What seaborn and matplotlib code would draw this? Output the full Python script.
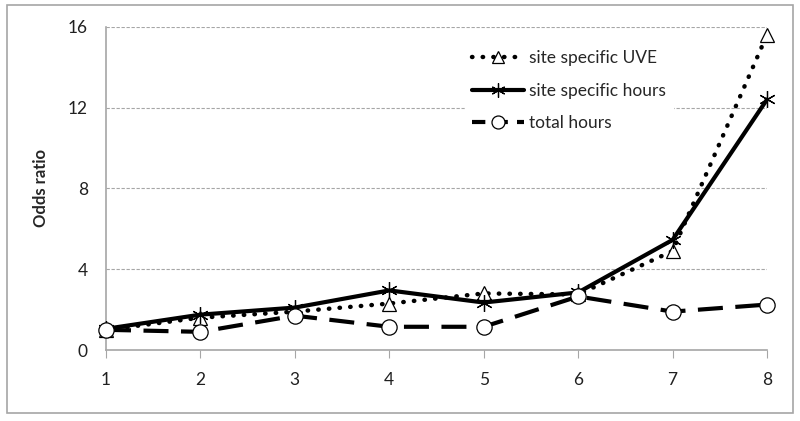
import matplotlib
matplotlib.use("Agg")
import matplotlib.pyplot as plt
import seaborn as sns
import pandas as pd
from matplotlib.patches import Rectangle

x_vals = [1, 2, 3, 4, 5, 6, 7, 8]
uve = [1.0, 1.6, 1.9, 2.3, 2.8, 2.75, 4.9, 15.6]
site_hours = [1.05, 1.75, 2.1, 2.95, 2.35, 2.85, 5.45, 12.4]
total_hours = [1.0, 0.9, 1.7, 1.15, 1.15, 2.65, 1.9, 2.25]
series_names = ["site specific UVE", "site specific hours", "total hours"]
y_ticks = [0, 4, 8, 12, 16]

df = pd.DataFrame({
    "x": x_vals * 3,
    "y": uve + site_hours + total_hours,
    "series": [series_names[0]] * 8 + [series_names[1]] * 8 + [series_names[2]] * 8,
})

sns.set_style("white")
plt.rcParams['font.family'] = ['Lato', 'DejaVu Sans']

fig = plt.figure(figsize=(8, 4.21), dpi=100)
fig.patches.append(Rectangle((0.009, 0.02), 0.982, 0.968, transform=fig.transFigure,
                             fill=False, edgecolor='#a6a6a6', linewidth=1.2))
ax = fig.add_axes([0.1325, 0.1686, 0.8263, 0.768])

styles = {
    series_names[0]: dict(ls=(0, (0.1, 2.3)), marker='^', ms=10, lw=3.2, cap='round'),
    series_names[1]: dict(ls='-', marker=(6, 2, 0), ms=12, lw=3.0, cap='butt'),
    series_names[2]: dict(ls=(0, (6, 3)), marker='o', ms=11, lw=3.0, cap='butt'),
}

for name in series_names:
    st = styles[name]
    sub = df[df["series"] == name]
    sns.lineplot(data=sub, x="x", y="y", ax=ax, color='black', linestyle=st['ls'],
                 linewidth=st['lw'], marker=st['marker'], markersize=st['ms'],
                 markerfacecolor='white', markeredgecolor='black', markeredgewidth=0.9,
                 dash_capstyle=st['cap'], label=name, zorder=3)

ax.set_xlim(1, 8)
ax.set_ylim(0, 16)
ax.set_yticks(y_ticks)
ax.set_xticks(x_vals)
ax.set_xlabel("")
ax.set_ylabel("Odds ratio", fontsize=12, fontweight='bold', labelpad=14)
ax.tick_params(axis='both', labelsize=12.5, colors='#404040')
ax.tick_params(axis='x', length=6, color='#a6a6a6', pad=10, direction='out', bottom=True)
ax.tick_params(axis='y', length=0, pad=13)
ax.yaxis.grid(True, linestyle=(0, (3, 1.5)), color='#a6a6a6', linewidth=0.8)
ax.xaxis.grid(False)
for s in ['top', 'right']:
    ax.spines[s].set_visible(False)
for s in ['left', 'bottom']:
    ax.spines[s].set_color('#a6a6a6')
    ax.spines[s].set_linewidth(1.2)
for l in ax.get_xticklabels() + ax.get_yticklabels():
    l.set_color('#202020')
for line in ax.lines:
    line.set_clip_on(False)

leg = ax.legend(loc='upper left', bbox_to_anchor=(0.53, 0.975), frameon=True,
                facecolor='white', edgecolor='white', framealpha=1.0,
                fontsize=12.5, handlelength=3.0, labelspacing=0.95, handletextpad=0.3,
                borderpad=0.4, markerscale=0.85)
leg.set_zorder(2)
leg_lines = leg.get_lines()
leg_lines[2].set_linestyle((0, (3.2, 2.2)))

fig.savefig("out.png", dpi=100)
